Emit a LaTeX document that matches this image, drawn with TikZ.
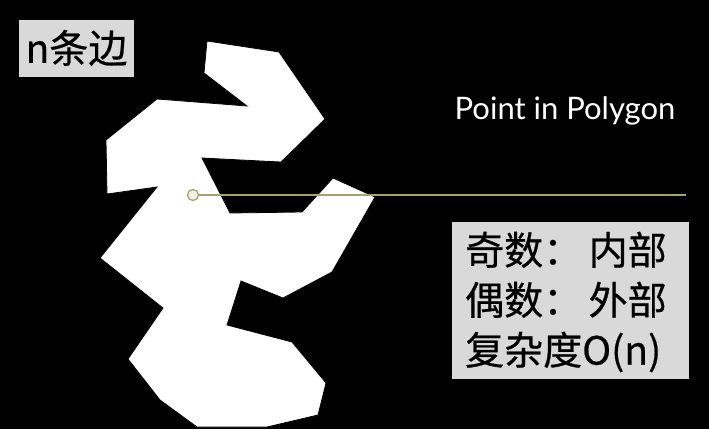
\documentclass[tikz,border=0pt]{standalone}
\usepackage{fontspec}
\usepackage{tikz}
\newfontfamily\cjk[FakeBold=0.6]{Noto Sans CJK SC}
\newfontfamily\titlefont{Lato}
\definecolor{raycol}{RGB}{168,162,112}
\definecolor{boxgray}{RGB}{217,217,217}
\tikzset{
	labelbox/.style={fill=boxgray, inner sep=0pt, font=\cjk\fontsize{39}{50}\selectfont, text=black},
	testpoint/.style={circle, draw=raycol, fill=white!85!raycol, line width=1.3pt, inner sep=0pt, minimum size=11pt}
}

\begin{document}
\begin{tikzpicture}[x=1pt, y=-1pt]
		% Draw background
		\fill[black] (0,0) rectangle (709,429);
		\useasboundingbox (0,0) rectangle (709,429);

		% Draw polygon
		\filldraw[fill=white, draw=black, line width=0.8pt] plot coordinates {
			(207,41) (279,52) (325,119) (281,162) (202,158) (230,213) (302,212)
			(333,178) (375,197) (332,272) (283,298) (241,281) (227,325) (292,342)
			(326,383) (318,415) (267,427) (197,427) (160,400) (128,359) (163,308)
			(100,258) (157,187) (107,194) (106,140) (157,99) (247,106) (204,73)} -- cycle;

		% Draw ray from the test point
		\node[testpoint] (pt) at (193,195) {};
		\coordinate (rayend) at (686,195);
		\draw[raycol, line width=1.6pt] (pt) -- (rayend);

		% Labels
		\fill[boxgray] (19,20) rectangle (134,77);
		\node[labelbox] (edges) at (76.5,48) {n条边};
		\node[text=white, font=\titlefont\fontsize{31}{34}\selectfont] (title) at (565,111) {Point in Polygon};
		\fill[boxgray] (452,222) rectangle (689,379);
		\node[labelbox, align=left, anchor=west] (rule) at (465,302) {奇数：\,内部\\偶数：\,外部\\复杂度O(n)};
	\end{tikzpicture}
\end{document}
